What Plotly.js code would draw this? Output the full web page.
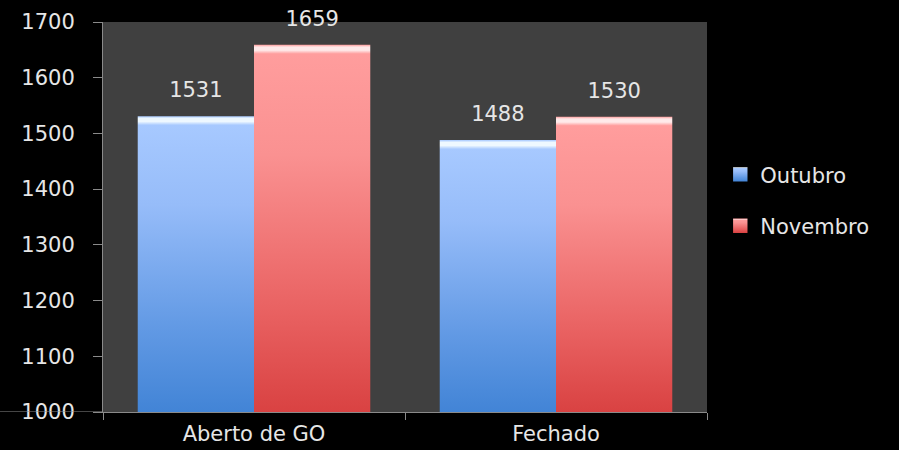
<!DOCTYPE html>
<html>
<head>
<meta charset="utf-8">
<script src="https://cdn.plot.ly/plotly-3.0.1.min.js"></script>
<style>html,body{margin:0;padding:0;background:#000;}#chart{width:899px;height:450px;}</style>
</head>
<body>
<div id="chart"></div>
<script>
const categories = ["Aberto de GO", "Fechado"];
const outubro = [1531, 1488];
const novembro = [1659, 1530];
const seriesNames = ["Outubro", "Novembro"];
const yTicks = [1000, 1100, 1200, 1300, 1400, 1500, 1600, 1700];

const fam = "DejaVu Sans, sans-serif";
const txt = "#e6e6e6";

const traces = [
  {type: "bar", name: seriesNames[0], x: categories, y: outubro, legendgroup: "a",
   marker: {color: "#79a7ea", line: {width: 0}},
   text: outubro.map(String), textposition: "outside", cliponaxis: false,
   textfont: {size: 21, color: txt, family: fam}},
  {type: "bar", name: seriesNames[1], x: categories, y: novembro, legendgroup: "b",
   marker: {color: "#f07a7a", line: {width: 0}},
   text: novembro.map(String), textposition: "outside", cliponaxis: false,
   textfont: {size: 21, color: txt, family: fam}}
];

const layout = {
  width: 899, height: 450,
  paper_bgcolor: "#000000", plot_bgcolor: "#404040",
  font: {family: fam, color: txt, size: 21},
  margin: {l: 103, r: 192, t: 22, b: 38},
  barmode: "group", bargap: 0.23, bargroupgap: 0,
  showlegend: true,
  legend: {x: 1.022, y: 0.543, xanchor: "left", yanchor: "middle", font: {size: 21, color: txt, family: fam},
           traceorder: "grouped", tracegroupgap: 21, bgcolor: "rgba(0,0,0,0)"},
  xaxis: {showline: true, linecolor: "#8a8a8a", linewidth: 1, ticks: "outside", tickson: "boundaries",
          ticklen: 7, tickcolor: "#8a8a8a", tickfont: {size: 21, color: txt, family: fam}, showgrid: false,
          ticklabelstandoff: 3},
  yaxis: {range: [1000, 1700], tickvals: yTicks, showline: true, linecolor: "#8a8a8a", linewidth: 1,
          ticks: "outside", ticklen: 9, tickcolor: "#8a8a8a", showgrid: false, zeroline: false,
          tickfont: {size: 21, color: txt, family: fam}, ticklabelstandoff: 14},
  shapes: [{type: "line", xref: "paper", yref: "y", x0: -0.1705, x1: 0, y0: 1000, y1: 1000,
            line: {color: "#8a8a8a", width: 1}, layer: "above"}]
};

Plotly.newPlot("chart", traces, layout, {staticPlot: true}).then(function (gd) {
  const svg = gd.querySelector("svg.main-svg");
  const ns = "http://www.w3.org/2000/svg";
  let defs = svg.querySelector("defs");
  if (!defs) { defs = document.createElementNS(ns, "defs"); svg.insertBefore(defs, svg.firstChild); }
  const plotH = gd._fullLayout.yaxis._length;
  const palettes = [
    {hi: "#eef8ff", top: "#a7c9ff", mid: "#96bcf9", low: "#6199e4", bot: "#4284d6"},
    {hi: "#ffeaea", top: "#ff9d9d", mid: "#fa9191", low: "#e96262", bot: "#d94242"}
  ];
  let n = 0;
  function makeGrad(pal, y1, y2, units) {
    const id = "g" + (n++);
    const g = document.createElementNS(ns, "linearGradient");
    g.setAttribute("id", id);
    if (units) g.setAttribute("gradientUnits", "userSpaceOnUse");
    g.setAttribute("x1", "0"); g.setAttribute("x2", "0");
    g.setAttribute("y1", String(y1)); g.setAttribute("y2", String(y2));
    const h = units ? (y2 - y1) : 100;
    const e = Math.min(0.25, 9 / h);
    [[0, pal.top], [e * 0.25, pal.hi], [e * 0.6, pal.hi], [e, pal.top], [0.3, pal.mid], [0.72, pal.low], [1, pal.bot]].forEach(s => {
      const st = document.createElementNS(ns, "stop");
      st.setAttribute("offset", String(s[0])); st.setAttribute("stop-color", s[1]);
      g.appendChild(st);
    });
    defs.appendChild(g);
    return id;
  }
  gd.querySelectorAll(".barlayer .trace.bars").forEach((tr, i) => {
    tr.querySelectorAll(".point").forEach(pt => {
      const p = pt.querySelector("path");
      if (p) {
        const bb = p.getBBox();
        const id = makeGrad(palettes[i], bb.y, plotH, true);
        p.style.fill = "url(#" + id + ")";
      }
      const t = pt.querySelector("text");
      if (t) {
        const tf = t.getAttribute("transform") || "";
        t.setAttribute("transform", "translate(0,-11) " + tf);
      }
    });
  });
  gd.querySelectorAll(".legend .traces").forEach((tr, i) => {
    tr.querySelectorAll(".legendpoints path").forEach(p => {
      const id = makeGrad(palettes[i], 0, 1, false);
      p.style.fill = "url(#" + id + ")";
      const tf = p.getAttribute("transform") || "";
      p.setAttribute("transform", tf + " scale(1.2)");
    });
  });
});
</script>
</body>
</html>
